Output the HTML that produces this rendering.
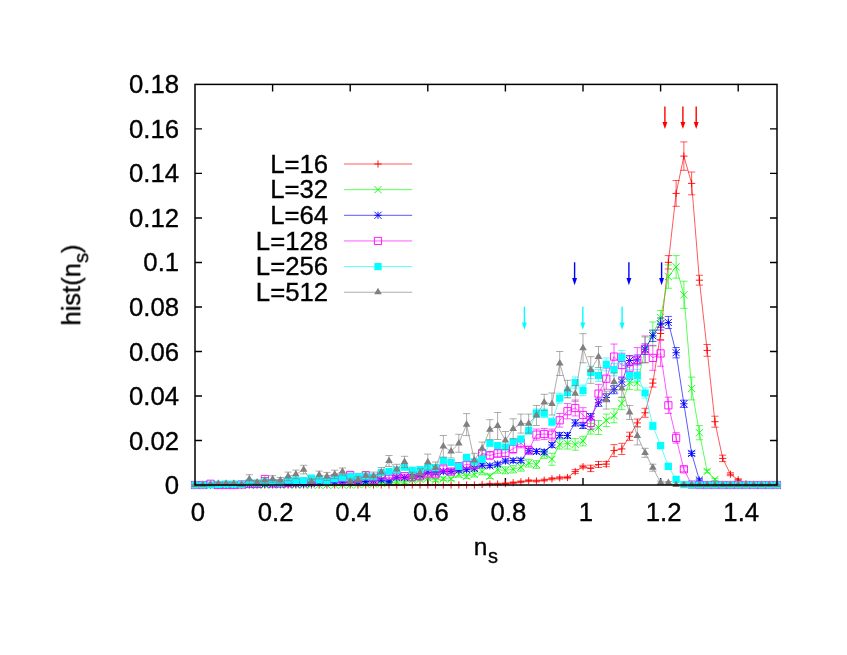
<!DOCTYPE html>
<html><head><meta charset="utf-8"><title>hist(n_s)</title>
<style>html,body{margin:0;padding:0;background:#fff}svg{display:block}</style></head>
<body>
<svg width="847" height="655" viewBox="0 0 847 655">
<rect width="847" height="655" fill="#fff"/>
<path d="M272.6 485.0V478.0M272.6 84.4V91.4M350.2 485.0V478.0M350.2 84.4V91.4M427.8 485.0V478.0M427.8 84.4V91.4M505.4 485.0V478.0M505.4 84.4V91.4M583 485.0V478.0M583 84.4V91.4M660.6 485.0V478.0M660.6 84.4V91.4M738.2 485.0V478.0M738.2 84.4V91.4M195.0 440.49H202.0M777.0 440.49H770.0M195.0 395.98H202.0M777.0 395.98H770.0M195.0 351.47H202.0M777.0 351.47H770.0M195.0 306.96H202.0M777.0 306.96H770.0M195.0 262.44H202.0M777.0 262.44H770.0M195.0 217.93H202.0M777.0 217.93H770.0M195.0 173.42H202.0M777.0 173.42H770.0M195.0 128.91H202.0M777.0 128.91H770.0" stroke="#000" stroke-width="1.4" fill="none"/>
<g fill="none" stroke-width="0.65" stroke-linejoin="round">
<g stroke="#ff0000"><path d="M191.4 485H198.6M199.16 485H206.36M206.92 485H214.12M214.68 485H221.88M222.44 485H229.64M230.2 485H237.4M237.96 485H245.16M245.72 485H252.92M253.48 485H260.68M261.24 485H268.44M269 485H276.2M276.76 485H283.96M284.52 485H291.72M292.28 485H299.48M300.04 485H307.24M307.8 485H315M315.56 485H322.76M323.32 485H330.52M331.08 485H338.28M338.84 485H346.04M346.6 485H353.8M354.36 485H361.56M362.12 485H369.32M369.88 485H377.08M377.64 485H384.84M385.4 485H392.6M393.16 485H400.36M400.92 485H408.12M408.68 485H415.88M416.44 485H423.64M424.2 485H431.4M431.96 485H439.16M439.72 485H446.92M447.48 485H454.68M455.24 485H462.44M463 485H470.2M470.76 485H477.96M482.12 484V485M478.52 484H485.72M478.52 485H485.72M489.88 483.32V484.68M486.28 483.32H493.48M486.28 484.68H493.48M497.64 483.32V484.68M494.04 483.32H501.24M494.04 484.68H501.24M505.4 482.89V484.31M501.8 482.89H509M501.8 484.31H509M513.16 481.92V483.48M509.56 481.92H516.76M509.56 483.48H516.76M520.92 480.94V482.66M517.32 480.94H524.52M517.32 482.66H524.52M528.68 479.76V481.64M525.08 479.76H532.28M525.08 481.64H532.28M536.44 480.08V481.92M532.84 480.08H540.04M532.84 481.92H540.04M544.2 479.11V481.09M540.6 479.11H547.8M540.6 481.09H547.8M551.96 477.7V479.9M548.36 477.7H555.56M548.36 479.9H555.56M559.72 476.73V479.07M556.12 476.73H563.32M556.12 479.07H563.32M567.48 476.3V478.7M563.88 476.3H571.08M563.88 478.7H571.08M575.24 469.6V473.6M571.64 469.6H578.84M571.64 473.6H578.84M583 465.3V468.1M579.4 465.3H586.6M579.4 468.1H586.6M590.76 465.2V471.6M587.16 465.2H594.36M587.16 471.6H594.36M598.52 461.5V467.5M594.92 461.5H602.12M594.92 467.5H602.12M606.28 461.5V466.7M602.68 461.5H609.88M602.68 466.7H609.88M614.04 444.6V456.6M610.44 444.6H617.64M610.44 456.6H617.64M621.8 443.3V454.5M618.2 443.3H625.4M618.2 454.5H625.4M629.56 432.2V440.4M625.96 432.2H633.16M625.96 440.4H633.16M637.32 419V426.8M633.72 419H640.92M633.72 426.8H640.92M645.08 408.3V417.3M641.48 408.3H648.68M641.48 417.3H648.68M652.84 379.1V387.1M649.24 379.1H656.44M649.24 387.1H656.44M660.6 327.5V339.5M657 327.5H664.2M657 339.5H664.2M668.36 255.6V269M664.76 255.6H671.96M664.76 269H671.96M676.12 180.5V206.3M672.52 180.5H679.72M672.52 206.3H679.72M683.88 141.9V170.3M680.28 141.9H687.48M680.28 170.3H687.48M691.64 172V194.8M688.04 172H695.24M688.04 194.8H695.24M699.4 275.3V285.1M695.8 275.3H703M695.8 285.1H703M707.16 344.5V356.3M703.56 344.5H710.76M703.56 356.3H710.76M714.92 416.2V427.2M711.32 416.2H718.52M711.32 427.2H718.52M722.68 455.2V461.6M719.08 455.2H726.28M719.08 461.6H726.28M730.44 472.7V475.7M726.84 472.7H734.04M726.84 475.7H734.04M738.2 478.8V480.8M734.6 478.8H741.8M734.6 480.8H741.8M745.96 483.32V484.68M742.36 483.32H749.56M742.36 484.68H749.56M750.12 485H757.32M757.88 485H765.08M765.64 485H772.84M773.4 485H780.6"/><path d="M195 485L202.76 485L210.52 485L218.28 485L226.04 485L233.8 485L241.56 485L249.32 485L257.08 485L264.84 485L272.6 485L280.36 485L288.12 485L295.88 485L303.64 485L311.4 485L319.16 485L326.92 485L334.68 485L342.44 485L350.2 485L357.96 485L365.72 485L373.48 485L381.24 485L389 485L396.76 485L404.52 485L412.28 485L420.04 485L427.8 485L435.56 485L443.32 485L451.08 485L458.84 485L466.6 485L474.36 485L482.12 484.5L489.88 484L497.64 484L505.4 483.6L513.16 482.7L520.92 481.8L528.68 480.7L536.44 481L544.2 480.1L551.96 478.8L559.72 477.9L567.48 477.5L575.24 471.6L583 466.7L590.76 468.4L598.52 464.5L606.28 464.1L614.04 450.6L621.8 448.9L629.56 436.3L637.32 422.9L645.08 412.8L652.84 383.1L660.6 333.5L668.36 262.3L676.12 193.4L683.88 156.1L691.64 183.4L699.4 280.2L707.16 350.4L714.92 421.7L722.68 458.4L730.44 474.2L738.2 479.8L745.96 484L753.72 485L761.48 485L769.24 485L777 485"/>
<path d="M191.4 485H198.6M195 481.4V488.6M199.16 485H206.36M202.76 481.4V488.6M206.92 485H214.12M210.52 481.4V488.6M214.68 485H221.88M218.28 481.4V488.6M222.44 485H229.64M226.04 481.4V488.6M230.2 485H237.4M233.8 481.4V488.6M237.96 485H245.16M241.56 481.4V488.6M245.72 485H252.92M249.32 481.4V488.6M253.48 485H260.68M257.08 481.4V488.6M261.24 485H268.44M264.84 481.4V488.6M269 485H276.2M272.6 481.4V488.6M276.76 485H283.96M280.36 481.4V488.6M284.52 485H291.72M288.12 481.4V488.6M292.28 485H299.48M295.88 481.4V488.6M300.04 485H307.24M303.64 481.4V488.6M307.8 485H315M311.4 481.4V488.6M315.56 485H322.76M319.16 481.4V488.6M323.32 485H330.52M326.92 481.4V488.6M331.08 485H338.28M334.68 481.4V488.6M338.84 485H346.04M342.44 481.4V488.6M346.6 485H353.8M350.2 481.4V488.6M354.36 485H361.56M357.96 481.4V488.6M362.12 485H369.32M365.72 481.4V488.6M369.88 485H377.08M373.48 481.4V488.6M377.64 485H384.84M381.24 481.4V488.6M385.4 485H392.6M389 481.4V488.6M393.16 485H400.36M396.76 481.4V488.6M400.92 485H408.12M404.52 481.4V488.6M408.68 485H415.88M412.28 481.4V488.6M416.44 485H423.64M420.04 481.4V488.6M424.2 485H431.4M427.8 481.4V488.6M431.96 485H439.16M435.56 481.4V488.6M439.72 485H446.92M443.32 481.4V488.6M447.48 485H454.68M451.08 481.4V488.6M455.24 485H462.44M458.84 481.4V488.6M463 485H470.2M466.6 481.4V488.6M470.76 485H477.96M474.36 481.4V488.6M478.52 484.5H485.72M482.12 480.9V488.1M486.28 484H493.48M489.88 480.4V487.6M494.04 484H501.24M497.64 480.4V487.6M501.8 483.6H509M505.4 480V487.2M509.56 482.7H516.76M513.16 479.1V486.3M517.32 481.8H524.52M520.92 478.2V485.4M525.08 480.7H532.28M528.68 477.1V484.3M532.84 481H540.04M536.44 477.4V484.6M540.6 480.1H547.8M544.2 476.5V483.7M548.36 478.8H555.56M551.96 475.2V482.4M556.12 477.9H563.32M559.72 474.3V481.5M563.88 477.5H571.08M567.48 473.9V481.1M571.64 471.6H578.84M575.24 468V475.2M579.4 466.7H586.6M583 463.1V470.3M587.16 468.4H594.36M590.76 464.8V472M594.92 464.5H602.12M598.52 460.9V468.1M602.68 464.1H609.88M606.28 460.5V467.7M610.44 450.6H617.64M614.04 447V454.2M618.2 448.9H625.4M621.8 445.3V452.5M625.96 436.3H633.16M629.56 432.7V439.9M633.72 422.9H640.92M637.32 419.3V426.5M641.48 412.8H648.68M645.08 409.2V416.4M649.24 383.1H656.44M652.84 379.5V386.7M657 333.5H664.2M660.6 329.9V337.1M664.76 262.3H671.96M668.36 258.7V265.9M672.52 193.4H679.72M676.12 189.8V197M680.28 156.1H687.48M683.88 152.5V159.7M688.04 183.4H695.24M691.64 179.8V187M695.8 280.2H703M699.4 276.6V283.8M703.56 350.4H710.76M707.16 346.8V354M711.32 421.7H718.52M714.92 418.1V425.3M719.08 458.4H726.28M722.68 454.8V462M726.84 474.2H734.04M730.44 470.6V477.8M734.6 479.8H741.8M738.2 476.2V483.4M742.36 484H749.56M745.96 480.4V487.6M750.12 485H757.32M753.72 481.4V488.6M757.88 485H765.08M761.48 481.4V488.6M765.64 485H772.84M769.24 481.4V488.6M773.4 485H780.6M777 481.4V488.6" stroke-width="0.9"/>
</g>
<g stroke="#00ff00"><path d="M191.4 485H198.6M199.16 485H206.36M206.92 485H214.12M214.68 485H221.88M222.44 485H229.64M230.2 485H237.4M237.96 485H245.16M245.72 485H252.92M253.48 485H260.68M261.24 485H268.44M269 485H276.2M276.76 485H283.96M284.52 485H291.72M292.28 485H299.48M300.04 485H307.24M307.8 485H315M315.56 485H322.76M323.32 485H330.52M331.08 485H338.28M338.84 485H346.04M346.6 485H353.8M357.96 484V485M354.36 484H361.56M354.36 485H361.56M365.72 483.3V484.7M362.12 483.3H369.32M362.12 484.7H369.32M373.48 483.3V484.7M369.88 483.3H377.08M369.88 484.7H377.08M381.24 482.7V484.3M377.64 482.7H384.84M377.64 484.3H384.84M389 481.74V483.66M385.4 481.74H392.6M385.4 483.66H392.6M396.76 480.9V483.1M393.16 480.9H400.36M393.16 483.1H400.36M404.52 480.9V483.1M400.92 480.9H408.12M400.92 483.1H408.12M412.28 478.62V481.58M408.68 478.62H415.88M408.68 481.58H415.88M420.04 477.78V481.02M416.44 477.78H423.64M416.44 481.02H423.64M427.8 476.22V479.98M424.2 476.22H431.4M424.2 479.98H431.4M435.56 478.62V481.58M431.96 478.62H439.16M431.96 481.58H439.16M443.32 477.06V480.54M439.72 477.06H446.92M439.72 480.54H446.92M451.08 477.06V480.54M447.48 477.06H454.68M447.48 480.54H454.68M458.84 471.9V477.1M455.24 471.9H462.44M455.24 477.1H462.44M466.6 473.94V478.46M463 473.94H470.2M463 478.46H470.2M474.36 471.54V476.86M470.76 471.54H477.96M470.76 476.86H477.96M482.12 468.42V474.78M478.52 468.42H485.72M478.52 474.78H485.72M489.88 473.94V478.46M486.28 473.94H493.48M486.28 478.46H493.48M497.64 466.14V473.26M494.04 466.14H501.24M494.04 473.26H501.24M505.4 466.86V473.74M501.8 466.86H509M501.8 473.74H509M513.16 465.66V472.94M509.56 465.66H516.76M509.56 472.94H516.76M520.92 463.02V471.18M517.32 463.02H524.52M517.32 471.18H524.52M528.68 459.33V467.07M525.08 459.33H532.28M525.08 467.07H532.28M536.44 460.68V468.32M532.84 460.68H540.04M532.84 468.32H540.04M544.2 449.86V458.34M540.6 449.86H547.8M540.6 458.34H547.8M551.96 453.3V465.3M548.36 453.3H555.56M548.36 465.3H555.56M559.72 439.78V449.02M556.12 439.78H563.32M556.12 449.02H563.32M567.48 437.6V449M563.88 437.6H571.08M563.88 449H571.08M575.24 438.6V450.2M571.64 438.6H578.84M571.64 450.2H578.84M583 436.34V445.86M579.4 436.34H586.6M579.4 445.86H586.6M590.76 423.55V434.05M587.16 423.55H594.36M587.16 434.05H594.36M598.52 420.5V434.5M594.92 420.5H602.12M594.92 434.5H602.12M606.28 414.1V426.5M602.68 414.1H609.88M602.68 426.5H609.88M614.04 408.8V422.8M610.44 408.8H617.64M610.44 422.8H617.64M621.8 397.14V409.66M618.2 397.14H625.4M618.2 409.66H625.4M629.56 375.19V389.41M625.96 375.19H633.16M625.96 389.41H633.16M637.32 375.92V390.08M633.72 375.92H640.92M633.72 390.08H640.92M645.08 337V363M641.48 337H648.68M641.48 363H648.68M652.84 322V346M649.24 322H656.44M649.24 346H656.44M660.6 310.5V324.5M657 310.5H664.2M657 324.5H664.2M668.36 264.9V288.3M664.76 264.9H671.96M664.76 288.3H671.96M676.12 255.6V278.2M672.52 255.6H679.72M672.52 278.2H679.72M683.88 281.2V308.4M680.28 281.2H687.48M680.28 308.4H687.48M691.64 377.1V399.9M688.04 377.1H695.24M688.04 399.9H695.24M699.4 425.6V439.8M695.8 425.6H703M695.8 439.8H703M707.16 469.9V472.9M703.56 469.9H710.76M703.56 472.9H710.76M714.92 478.4V480.4M711.32 478.4H718.52M711.32 480.4H718.52M719.08 485H726.28M726.84 485H734.04M734.6 485H741.8M742.36 485H749.56M750.12 485H757.32M757.88 485H765.08M765.64 485H772.84M773.4 485H780.6"/><path d="M195 485L202.76 485L210.52 485L218.28 485L226.04 485L233.8 485L241.56 485L249.32 485L257.08 485L264.84 485L272.6 485L280.36 485L288.12 485L295.88 485L303.64 485L311.4 485L319.16 485L326.92 485L334.68 485L342.44 485L350.2 485L357.96 484.5L365.72 484L373.48 484L381.24 483.5L389 482.7L396.76 482L404.52 482L412.28 480.1L420.04 479.4L427.8 478.1L435.56 480.1L443.32 478.8L451.08 478.8L458.84 474.5L466.6 476.2L474.36 474.2L482.12 471.6L489.88 476.2L497.64 469.7L505.4 470.3L513.16 469.3L520.92 467.1L528.68 463.2L536.44 464.5L544.2 454.1L551.96 459.3L559.72 444.4L567.48 443.3L575.24 444.4L583 441.1L590.76 428.8L598.52 427.5L606.28 420.3L614.04 415.8L621.8 403.4L629.56 382.3L637.32 383L645.08 350L652.84 334L660.6 317.5L668.36 276.6L676.12 266.9L683.88 294.8L691.64 388.5L699.4 432.7L707.16 471.4L714.92 479.4L722.68 485L730.44 485L738.2 485L745.96 485L753.72 485L761.48 485L769.24 485L777 485"/>
<path d="M191.4 481.4L198.6 488.6M191.4 488.6L198.6 481.4M199.16 481.4L206.36 488.6M199.16 488.6L206.36 481.4M206.92 481.4L214.12 488.6M206.92 488.6L214.12 481.4M214.68 481.4L221.88 488.6M214.68 488.6L221.88 481.4M222.44 481.4L229.64 488.6M222.44 488.6L229.64 481.4M230.2 481.4L237.4 488.6M230.2 488.6L237.4 481.4M237.96 481.4L245.16 488.6M237.96 488.6L245.16 481.4M245.72 481.4L252.92 488.6M245.72 488.6L252.92 481.4M253.48 481.4L260.68 488.6M253.48 488.6L260.68 481.4M261.24 481.4L268.44 488.6M261.24 488.6L268.44 481.4M269 481.4L276.2 488.6M269 488.6L276.2 481.4M276.76 481.4L283.96 488.6M276.76 488.6L283.96 481.4M284.52 481.4L291.72 488.6M284.52 488.6L291.72 481.4M292.28 481.4L299.48 488.6M292.28 488.6L299.48 481.4M300.04 481.4L307.24 488.6M300.04 488.6L307.24 481.4M307.8 481.4L315 488.6M307.8 488.6L315 481.4M315.56 481.4L322.76 488.6M315.56 488.6L322.76 481.4M323.32 481.4L330.52 488.6M323.32 488.6L330.52 481.4M331.08 481.4L338.28 488.6M331.08 488.6L338.28 481.4M338.84 481.4L346.04 488.6M338.84 488.6L346.04 481.4M346.6 481.4L353.8 488.6M346.6 488.6L353.8 481.4M354.36 480.9L361.56 488.1M354.36 488.1L361.56 480.9M362.12 480.4L369.32 487.6M362.12 487.6L369.32 480.4M369.88 480.4L377.08 487.6M369.88 487.6L377.08 480.4M377.64 479.9L384.84 487.1M377.64 487.1L384.84 479.9M385.4 479.1L392.6 486.3M385.4 486.3L392.6 479.1M393.16 478.4L400.36 485.6M393.16 485.6L400.36 478.4M400.92 478.4L408.12 485.6M400.92 485.6L408.12 478.4M408.68 476.5L415.88 483.7M408.68 483.7L415.88 476.5M416.44 475.8L423.64 483M416.44 483L423.64 475.8M424.2 474.5L431.4 481.7M424.2 481.7L431.4 474.5M431.96 476.5L439.16 483.7M431.96 483.7L439.16 476.5M439.72 475.2L446.92 482.4M439.72 482.4L446.92 475.2M447.48 475.2L454.68 482.4M447.48 482.4L454.68 475.2M455.24 470.9L462.44 478.1M455.24 478.1L462.44 470.9M463 472.6L470.2 479.8M463 479.8L470.2 472.6M470.76 470.6L477.96 477.8M470.76 477.8L477.96 470.6M478.52 468L485.72 475.2M478.52 475.2L485.72 468M486.28 472.6L493.48 479.8M486.28 479.8L493.48 472.6M494.04 466.1L501.24 473.3M494.04 473.3L501.24 466.1M501.8 466.7L509 473.9M501.8 473.9L509 466.7M509.56 465.7L516.76 472.9M509.56 472.9L516.76 465.7M517.32 463.5L524.52 470.7M517.32 470.7L524.52 463.5M525.08 459.6L532.28 466.8M525.08 466.8L532.28 459.6M532.84 460.9L540.04 468.1M532.84 468.1L540.04 460.9M540.6 450.5L547.8 457.7M540.6 457.7L547.8 450.5M548.36 455.7L555.56 462.9M548.36 462.9L555.56 455.7M556.12 440.8L563.32 448M556.12 448L563.32 440.8M563.88 439.7L571.08 446.9M563.88 446.9L571.08 439.7M571.64 440.8L578.84 448M571.64 448L578.84 440.8M579.4 437.5L586.6 444.7M579.4 444.7L586.6 437.5M587.16 425.2L594.36 432.4M587.16 432.4L594.36 425.2M594.92 423.9L602.12 431.1M594.92 431.1L602.12 423.9M602.68 416.7L609.88 423.9M602.68 423.9L609.88 416.7M610.44 412.2L617.64 419.4M610.44 419.4L617.64 412.2M618.2 399.8L625.4 407M618.2 407L625.4 399.8M625.96 378.7L633.16 385.9M625.96 385.9L633.16 378.7M633.72 379.4L640.92 386.6M633.72 386.6L640.92 379.4M641.48 346.4L648.68 353.6M641.48 353.6L648.68 346.4M649.24 330.4L656.44 337.6M649.24 337.6L656.44 330.4M657 313.9L664.2 321.1M657 321.1L664.2 313.9M664.76 273L671.96 280.2M664.76 280.2L671.96 273M672.52 263.3L679.72 270.5M672.52 270.5L679.72 263.3M680.28 291.2L687.48 298.4M680.28 298.4L687.48 291.2M688.04 384.9L695.24 392.1M688.04 392.1L695.24 384.9M695.8 429.1L703 436.3M695.8 436.3L703 429.1M703.56 467.8L710.76 475M703.56 475L710.76 467.8M711.32 475.8L718.52 483M711.32 483L718.52 475.8M719.08 481.4L726.28 488.6M719.08 488.6L726.28 481.4M726.84 481.4L734.04 488.6M726.84 488.6L734.04 481.4M734.6 481.4L741.8 488.6M734.6 488.6L741.8 481.4M742.36 481.4L749.56 488.6M742.36 488.6L749.56 481.4M750.12 481.4L757.32 488.6M750.12 488.6L757.32 481.4M757.88 481.4L765.08 488.6M757.88 488.6L765.08 481.4M765.64 481.4L772.84 488.6M765.64 488.6L772.84 481.4M773.4 481.4L780.6 488.6M773.4 488.6L780.6 481.4" stroke-width="0.9"/>
</g>
<g stroke="#0000ff"><path d="M191.4 485H198.6M199.16 485H206.36M206.92 485H214.12M218.28 484.4V485M214.68 484.4H221.88M214.68 485H221.88M226.04 484.4V485M222.44 484.4H229.64M222.44 485H229.64M233.8 484.4V485M230.2 484.4H237.4M230.2 485H237.4M241.56 484.4V485M237.96 484.4H245.16M237.96 485H245.16M249.32 484V485M245.72 484H252.92M245.72 485H252.92M257.08 484V485M253.48 484H260.68M253.48 485H260.68M264.84 483.4V485M261.24 483.4H268.44M261.24 485H268.44M272.6 483.4V485M269 483.4H276.2M269 485H276.2M280.36 483.4V485M276.76 483.4H283.96M276.76 485H283.96M288.12 483V485M284.52 483H291.72M284.52 485H291.72M295.88 483V485M292.28 483H299.48M292.28 485H299.48M303.64 483V485M300.04 483H307.24M300.04 485H307.24M311.4 482.25V484.75M307.8 482.25H315M307.8 484.75H315M319.16 481.23V483.77M315.56 481.23H322.76M315.56 483.77H322.76M326.92 481.23V483.77M323.32 481.23H330.52M323.32 483.77H330.52M334.68 480.71V483.29M331.08 480.71H338.28M331.08 483.29H338.28M342.44 480.71V483.29M338.84 480.71H346.04M338.84 483.29H346.04M350.2 481.23V483.77M346.6 481.23H353.8M346.6 483.77H353.8M357.96 480.71V483.29M354.36 480.71H361.56M354.36 483.29H361.56M365.72 480.19V482.81M362.12 480.19H369.32M362.12 482.81H369.32M373.48 479.17V481.83M369.88 479.17H377.08M369.88 481.83H377.08M381.24 478.65V481.35M377.64 478.65H384.84M377.64 481.35H384.84M389 480.09V482.71M385.4 480.09H392.6M385.4 482.71H392.6M396.76 476.07V478.93M393.16 476.07H400.36M393.16 478.93H400.36M404.52 476.07V478.93M400.92 476.07H408.12M400.92 478.93H408.12M412.28 474.74V477.66M408.68 474.74H415.88M408.68 477.66H415.88M420.04 473.5V476.5M416.44 473.5H423.64M416.44 476.5H423.64M427.8 470.72V473.88M424.2 470.72H431.4M424.2 473.88H431.4M435.56 471.44V474.56M431.96 471.44H439.16M431.96 474.56H439.16M443.32 470V473.2M439.72 470H446.92M439.72 473.2H446.92M451.08 469.79V473.01M447.48 469.79H454.68M447.48 473.01H454.68M458.84 468.66V471.94M455.24 468.66H462.44M455.24 471.94H462.44M466.6 468.04V471.36M463 468.04H470.2M463 471.36H470.2M474.36 466.7V470.1M470.76 466.7H477.96M470.76 470.1H477.96M482.12 463.3V466.9M478.52 463.3H485.72M478.52 466.9H485.72M489.88 464.02V467.58M486.28 464.02H493.48M486.28 467.58H493.48M497.64 462.27V465.93M494.04 462.27H501.24M494.04 465.93H501.24M505.4 459.08V462.92M501.8 459.08H509M501.8 462.92H509M513.16 458.67V462.53M509.56 458.67H516.76M509.56 462.53H516.76M520.92 458.36V462.24M517.32 458.36H524.52M517.32 462.24H524.52M528.68 448.57V453.03M525.08 448.57H532.28M525.08 453.03H532.28M536.44 449.3V453.7M532.84 449.3H540.04M532.84 453.7H540.04M544.2 449.71V454.09M540.6 449.71H547.8M540.6 454.09H547.8M551.96 442.6V447.4M548.36 442.6H555.56M548.36 447.4H555.56M559.72 432.61V437.99M556.12 432.61H563.32M556.12 437.99H563.32M567.48 432.81V438.19M563.88 432.81H571.08M563.88 438.19H571.08M575.24 419.84V425.96M571.64 419.84H578.84M571.64 425.96H578.84M583 422.51V428.49M579.4 422.51H586.6M579.4 428.49H586.6M590.76 413.55V420.05M587.16 413.55H594.36M587.16 420.05H594.36M598.52 399.03V406.37M594.92 399.03H602.12M594.92 406.37H602.12M606.28 393.68V401.32M602.68 393.68H609.88M602.68 401.32H609.88M614.04 385.64V393.76M610.44 385.64H617.64M610.44 393.76H617.64M621.8 377.71V386.29M618.2 377.71H625.4M618.2 386.29H625.4M629.56 355.56V365.44M625.96 355.56H633.16M625.96 365.44H633.16M637.32 354.95V364.85M633.72 354.95H640.92M633.72 364.85H640.92M645.08 343.93V354.47M641.48 343.93H648.68M641.48 354.47H648.68M652.84 330.12V341.48M649.24 330.12H656.44M649.24 341.48H656.44M660.6 317.97V330.03M657 317.97H664.2M657 330.03H664.2M668.36 316.43V328.57M664.76 316.43H671.96M664.76 328.57H671.96M676.12 347.53V357.87M672.52 347.53H679.72M672.52 357.87H679.72M683.88 400.16V407.44M680.28 400.16H687.48M680.28 407.44H687.48M691.64 451.25V455.55M688.04 451.25H695.24M688.04 455.55H695.24M699.4 478.75V481.45M695.8 478.75H703M695.8 481.45H703M703.56 485H710.76M711.32 485H718.52M719.08 485H726.28M726.84 485H734.04M734.6 485H741.8M742.36 485H749.56M750.12 485H757.32M757.88 485H765.08M765.64 485H772.84M773.4 485H780.6"/><path d="M195 485L202.76 485L210.52 485L218.28 484.7L226.04 484.7L233.8 484.7L241.56 484.7L249.32 484.5L257.08 484.5L264.84 484.2L272.6 484.2L280.36 484.2L288.12 484L295.88 484L303.64 484L311.4 483.5L319.16 482.5L326.92 482.5L334.68 482L342.44 482L350.2 482.5L357.96 482L365.72 481.5L373.48 480.5L381.24 480L389 481.4L396.76 477.5L404.52 477.5L412.28 476.2L420.04 475L427.8 472.3L435.56 473L443.32 471.6L451.08 471.4L458.84 470.3L466.6 469.7L474.36 468.4L482.12 465.1L489.88 465.8L497.64 464.1L505.4 461L513.16 460.6L520.92 460.3L528.68 450.8L536.44 451.5L544.2 451.9L551.96 445L559.72 435.3L567.48 435.5L575.24 422.9L583 425.5L590.76 416.8L598.52 402.7L606.28 397.5L614.04 389.7L621.8 382L629.56 360.5L637.32 359.9L645.08 349.2L652.84 335.8L660.6 324L668.36 322.5L676.12 352.7L683.88 403.8L691.64 453.4L699.4 480.1L707.16 485L714.92 485L722.68 485L730.44 485L738.2 485L745.96 485L753.72 485L761.48 485L769.24 485L777 485"/>
<path d="M191.4 485H198.6M195 481.4V488.6M191.4 481.4L198.6 488.6M191.4 488.6L198.6 481.4M199.16 485H206.36M202.76 481.4V488.6M199.16 481.4L206.36 488.6M199.16 488.6L206.36 481.4M206.92 485H214.12M210.52 481.4V488.6M206.92 481.4L214.12 488.6M206.92 488.6L214.12 481.4M214.68 484.7H221.88M218.28 481.1V488.3M214.68 481.1L221.88 488.3M214.68 488.3L221.88 481.1M222.44 484.7H229.64M226.04 481.1V488.3M222.44 481.1L229.64 488.3M222.44 488.3L229.64 481.1M230.2 484.7H237.4M233.8 481.1V488.3M230.2 481.1L237.4 488.3M230.2 488.3L237.4 481.1M237.96 484.7H245.16M241.56 481.1V488.3M237.96 481.1L245.16 488.3M237.96 488.3L245.16 481.1M245.72 484.5H252.92M249.32 480.9V488.1M245.72 480.9L252.92 488.1M245.72 488.1L252.92 480.9M253.48 484.5H260.68M257.08 480.9V488.1M253.48 480.9L260.68 488.1M253.48 488.1L260.68 480.9M261.24 484.2H268.44M264.84 480.6V487.8M261.24 480.6L268.44 487.8M261.24 487.8L268.44 480.6M269 484.2H276.2M272.6 480.6V487.8M269 480.6L276.2 487.8M269 487.8L276.2 480.6M276.76 484.2H283.96M280.36 480.6V487.8M276.76 480.6L283.96 487.8M276.76 487.8L283.96 480.6M284.52 484H291.72M288.12 480.4V487.6M284.52 480.4L291.72 487.6M284.52 487.6L291.72 480.4M292.28 484H299.48M295.88 480.4V487.6M292.28 480.4L299.48 487.6M292.28 487.6L299.48 480.4M300.04 484H307.24M303.64 480.4V487.6M300.04 480.4L307.24 487.6M300.04 487.6L307.24 480.4M307.8 483.5H315M311.4 479.9V487.1M307.8 479.9L315 487.1M307.8 487.1L315 479.9M315.56 482.5H322.76M319.16 478.9V486.1M315.56 478.9L322.76 486.1M315.56 486.1L322.76 478.9M323.32 482.5H330.52M326.92 478.9V486.1M323.32 478.9L330.52 486.1M323.32 486.1L330.52 478.9M331.08 482H338.28M334.68 478.4V485.6M331.08 478.4L338.28 485.6M331.08 485.6L338.28 478.4M338.84 482H346.04M342.44 478.4V485.6M338.84 478.4L346.04 485.6M338.84 485.6L346.04 478.4M346.6 482.5H353.8M350.2 478.9V486.1M346.6 478.9L353.8 486.1M346.6 486.1L353.8 478.9M354.36 482H361.56M357.96 478.4V485.6M354.36 478.4L361.56 485.6M354.36 485.6L361.56 478.4M362.12 481.5H369.32M365.72 477.9V485.1M362.12 477.9L369.32 485.1M362.12 485.1L369.32 477.9M369.88 480.5H377.08M373.48 476.9V484.1M369.88 476.9L377.08 484.1M369.88 484.1L377.08 476.9M377.64 480H384.84M381.24 476.4V483.6M377.64 476.4L384.84 483.6M377.64 483.6L384.84 476.4M385.4 481.4H392.6M389 477.8V485M385.4 477.8L392.6 485M385.4 485L392.6 477.8M393.16 477.5H400.36M396.76 473.9V481.1M393.16 473.9L400.36 481.1M393.16 481.1L400.36 473.9M400.92 477.5H408.12M404.52 473.9V481.1M400.92 473.9L408.12 481.1M400.92 481.1L408.12 473.9M408.68 476.2H415.88M412.28 472.6V479.8M408.68 472.6L415.88 479.8M408.68 479.8L415.88 472.6M416.44 475H423.64M420.04 471.4V478.6M416.44 471.4L423.64 478.6M416.44 478.6L423.64 471.4M424.2 472.3H431.4M427.8 468.7V475.9M424.2 468.7L431.4 475.9M424.2 475.9L431.4 468.7M431.96 473H439.16M435.56 469.4V476.6M431.96 469.4L439.16 476.6M431.96 476.6L439.16 469.4M439.72 471.6H446.92M443.32 468V475.2M439.72 468L446.92 475.2M439.72 475.2L446.92 468M447.48 471.4H454.68M451.08 467.8V475M447.48 467.8L454.68 475M447.48 475L454.68 467.8M455.24 470.3H462.44M458.84 466.7V473.9M455.24 466.7L462.44 473.9M455.24 473.9L462.44 466.7M463 469.7H470.2M466.6 466.1V473.3M463 466.1L470.2 473.3M463 473.3L470.2 466.1M470.76 468.4H477.96M474.36 464.8V472M470.76 464.8L477.96 472M470.76 472L477.96 464.8M478.52 465.1H485.72M482.12 461.5V468.7M478.52 461.5L485.72 468.7M478.52 468.7L485.72 461.5M486.28 465.8H493.48M489.88 462.2V469.4M486.28 462.2L493.48 469.4M486.28 469.4L493.48 462.2M494.04 464.1H501.24M497.64 460.5V467.7M494.04 460.5L501.24 467.7M494.04 467.7L501.24 460.5M501.8 461H509M505.4 457.4V464.6M501.8 457.4L509 464.6M501.8 464.6L509 457.4M509.56 460.6H516.76M513.16 457V464.2M509.56 457L516.76 464.2M509.56 464.2L516.76 457M517.32 460.3H524.52M520.92 456.7V463.9M517.32 456.7L524.52 463.9M517.32 463.9L524.52 456.7M525.08 450.8H532.28M528.68 447.2V454.4M525.08 447.2L532.28 454.4M525.08 454.4L532.28 447.2M532.84 451.5H540.04M536.44 447.9V455.1M532.84 447.9L540.04 455.1M532.84 455.1L540.04 447.9M540.6 451.9H547.8M544.2 448.3V455.5M540.6 448.3L547.8 455.5M540.6 455.5L547.8 448.3M548.36 445H555.56M551.96 441.4V448.6M548.36 441.4L555.56 448.6M548.36 448.6L555.56 441.4M556.12 435.3H563.32M559.72 431.7V438.9M556.12 431.7L563.32 438.9M556.12 438.9L563.32 431.7M563.88 435.5H571.08M567.48 431.9V439.1M563.88 431.9L571.08 439.1M563.88 439.1L571.08 431.9M571.64 422.9H578.84M575.24 419.3V426.5M571.64 419.3L578.84 426.5M571.64 426.5L578.84 419.3M579.4 425.5H586.6M583 421.9V429.1M579.4 421.9L586.6 429.1M579.4 429.1L586.6 421.9M587.16 416.8H594.36M590.76 413.2V420.4M587.16 413.2L594.36 420.4M587.16 420.4L594.36 413.2M594.92 402.7H602.12M598.52 399.1V406.3M594.92 399.1L602.12 406.3M594.92 406.3L602.12 399.1M602.68 397.5H609.88M606.28 393.9V401.1M602.68 393.9L609.88 401.1M602.68 401.1L609.88 393.9M610.44 389.7H617.64M614.04 386.1V393.3M610.44 386.1L617.64 393.3M610.44 393.3L617.64 386.1M618.2 382H625.4M621.8 378.4V385.6M618.2 378.4L625.4 385.6M618.2 385.6L625.4 378.4M625.96 360.5H633.16M629.56 356.9V364.1M625.96 356.9L633.16 364.1M625.96 364.1L633.16 356.9M633.72 359.9H640.92M637.32 356.3V363.5M633.72 356.3L640.92 363.5M633.72 363.5L640.92 356.3M641.48 349.2H648.68M645.08 345.6V352.8M641.48 345.6L648.68 352.8M641.48 352.8L648.68 345.6M649.24 335.8H656.44M652.84 332.2V339.4M649.24 332.2L656.44 339.4M649.24 339.4L656.44 332.2M657 324H664.2M660.6 320.4V327.6M657 320.4L664.2 327.6M657 327.6L664.2 320.4M664.76 322.5H671.96M668.36 318.9V326.1M664.76 318.9L671.96 326.1M664.76 326.1L671.96 318.9M672.52 352.7H679.72M676.12 349.1V356.3M672.52 349.1L679.72 356.3M672.52 356.3L679.72 349.1M680.28 403.8H687.48M683.88 400.2V407.4M680.28 400.2L687.48 407.4M680.28 407.4L687.48 400.2M688.04 453.4H695.24M691.64 449.8V457M688.04 449.8L695.24 457M688.04 457L695.24 449.8M695.8 480.1H703M699.4 476.5V483.7M695.8 476.5L703 483.7M695.8 483.7L703 476.5M703.56 485H710.76M707.16 481.4V488.6M703.56 481.4L710.76 488.6M703.56 488.6L710.76 481.4M711.32 485H718.52M714.92 481.4V488.6M711.32 481.4L718.52 488.6M711.32 488.6L718.52 481.4M719.08 485H726.28M722.68 481.4V488.6M719.08 481.4L726.28 488.6M719.08 488.6L726.28 481.4M726.84 485H734.04M730.44 481.4V488.6M726.84 481.4L734.04 488.6M726.84 488.6L734.04 481.4M734.6 485H741.8M738.2 481.4V488.6M734.6 481.4L741.8 488.6M734.6 488.6L741.8 481.4M742.36 485H749.56M745.96 481.4V488.6M742.36 481.4L749.56 488.6M742.36 488.6L749.56 481.4M750.12 485H757.32M753.72 481.4V488.6M750.12 481.4L757.32 488.6M750.12 488.6L757.32 481.4M757.88 485H765.08M761.48 481.4V488.6M757.88 481.4L765.08 488.6M757.88 488.6L765.08 481.4M765.64 485H772.84M769.24 481.4V488.6M765.64 481.4L772.84 488.6M765.64 488.6L772.84 481.4M773.4 485H780.6M777 481.4V488.6M773.4 481.4L780.6 488.6M773.4 488.6L780.6 481.4" stroke-width="0.9"/>
</g>
<g stroke="#ff00ff"><path d="M191.4 485H198.6M199.16 485H206.36M210.52 482.69V484.91M206.92 482.69H214.12M206.92 484.91H214.12M214.68 485H221.88M222.44 485H229.64M230.2 485H237.4M241.56 484V485M237.96 484H245.16M237.96 485H245.16M249.32 483V485M245.72 483H252.92M245.72 485H252.92M257.08 483V485M253.48 483H260.68M253.48 485H260.68M264.84 477.46V480.54M261.24 477.46H268.44M261.24 480.54H268.44M272.6 482.37V484.63M269 482.37H276.2M269 484.63H276.2M280.36 482.37V484.63M276.76 482.37H283.96M276.76 484.63H283.96M288.12 481.82V484.18M284.52 481.82H291.72M284.52 484.18H291.72M295.88 480.73V483.27M292.28 480.73H299.48M292.28 483.27H299.48M303.64 480.73V483.27M300.04 480.73H307.24M300.04 483.27H307.24M311.4 480.73V483.27M307.8 480.73H315M307.8 483.27H315M319.16 480.19V482.81M315.56 480.19H322.76M315.56 482.81H322.76M326.92 480.73V483.27M323.32 480.73H330.52M323.32 483.27H330.52M334.68 476.7V479.9M331.08 476.7H338.28M331.08 479.9H338.28M342.44 478.55V481.45M338.84 478.55H346.04M338.84 481.45H346.04M350.2 473.1V476.9M346.6 473.1H353.8M346.6 476.9H353.8M357.96 479.64V482.36M354.36 479.64H361.56M354.36 482.36H361.56M365.72 473.43V477.17M362.12 473.43H369.32M362.12 477.17H369.32M373.48 478.55V481.45M369.88 478.55H377.08M369.88 481.45H377.08M381.24 473.64V477.36M377.64 473.64H384.84M377.64 477.36H384.84M389 473.64V477.36M385.4 473.64H392.6M385.4 477.36H392.6M396.76 473.64V477.36M393.16 473.64H400.36M393.16 477.36H400.36M404.52 474.41V477.99M400.92 474.41H408.12M400.92 477.99H408.12M412.28 475.28V478.72M408.68 475.28H415.88M408.68 478.72H415.88M420.04 474.41V477.99M416.44 474.41H423.64M416.44 477.99H423.64M427.8 472.23V476.17M424.2 472.23H431.4M424.2 476.17H431.4M435.56 472.23V476.17M431.96 472.23H439.16M431.96 476.17H439.16M443.32 465.91V470.89M439.72 465.91H446.92M439.72 470.89H446.92M451.08 469.39V473.81M447.48 469.39H454.68M447.48 473.81H454.68M458.84 463.51V468.89M455.24 463.51H462.44M455.24 468.89H462.44M466.6 461.65V467.35M463 461.65H470.2M463 467.35H470.2M474.36 462.31V467.89M470.76 462.31H477.96M470.76 467.89H477.96M482.12 449.56V457.24M478.52 449.56H485.72M478.52 457.24H485.72M489.88 451.74V459.06M486.28 451.74H493.48M486.28 459.06H493.48M497.64 449.56V457.24M494.04 449.56H501.24M494.04 457.24H501.24M505.4 448.9V456.7M501.8 448.9H509M501.8 456.7H509M513.16 444.65V453.15M509.56 444.65H516.76M509.56 453.15H516.76M520.92 438.33V447.87M517.32 438.33H524.52M517.32 447.87H524.52M528.68 446.07V454.33M525.08 446.07H532.28M525.08 454.33H532.28M536.44 429.06V440.14M532.84 429.06H540.04M532.84 440.14H540.04M544.2 428.41V439.59M540.6 428.41H547.8M540.6 439.59H547.8M551.96 429.06V440.14M548.36 429.06H555.56M548.36 440.14H555.56M559.72 413.48V427.12M556.12 413.48H563.32M556.12 427.12H563.32M567.48 403.56V418.84M563.88 403.56H571.08M563.88 418.84H571.08M575.24 400.07V415.93M571.64 400.07H578.84M571.64 415.93H578.84M583 407.7V422.3M579.4 407.7H586.6M579.4 422.3H586.6M590.76 416.31V429.49M587.16 416.31H594.36M587.16 429.49H594.36M598.52 384.37V402.83M594.92 384.37H602.12M594.92 402.83H602.12M606.28 368.13V389.27M602.68 368.13H609.88M602.68 389.27H609.88M614.04 344.04V369.16M610.44 344.04H617.64M610.44 369.16H617.64M621.8 353.2V376.8M618.2 353.2H625.4M618.2 376.8H625.4M629.56 356.14V379.26M625.96 356.14H633.16M625.96 379.26H633.16M637.32 347.64V372.16M633.72 347.64H640.92M633.72 372.16H640.92M645.08 335.98V362.42M641.48 335.98H648.68M641.48 362.42H648.68M652.84 345.46V370.34M649.24 345.46H656.44M649.24 370.34H656.44M660.6 340.56V366.24M657 340.56H664.2M657 366.24H664.2M668.36 397.13V413.47M664.76 397.13H671.96M664.76 413.47H671.96M676.12 432.66V443.14M672.52 432.66H679.72M672.52 443.14H679.72M683.88 466.89V471.71M680.28 466.89H687.48M680.28 471.71H687.48M691.64 484.2V485M688.04 484.2H695.24M688.04 485H695.24M695.8 485H703M703.56 485H710.76M711.32 485H718.52M719.08 485H726.28M726.84 485H734.04M734.6 485H741.8M742.36 485H749.56M750.12 485H757.32M757.88 485H765.08M765.64 485H772.84M773.4 485H780.6"/><path d="M195 485L202.76 485L210.52 483.8L218.28 485L226.04 485L233.8 485L241.56 484.5L249.32 484L257.08 484L264.84 479L272.6 483.5L280.36 483.5L288.12 483L295.88 482L303.64 482L311.4 482L319.16 481.5L326.92 482L334.68 478.3L342.44 480L350.2 475L357.96 481L365.72 475.3L373.48 480L381.24 475.5L389 475.5L396.76 475.5L404.52 476.2L412.28 477L420.04 476.2L427.8 474.2L435.56 474.2L443.32 468.4L451.08 471.6L458.84 466.2L466.6 464.5L474.36 465.1L482.12 453.4L489.88 455.4L497.64 453.4L505.4 452.8L513.16 448.9L520.92 443.1L528.68 450.2L536.44 434.6L544.2 434L551.96 434.6L559.72 420.3L567.48 411.2L575.24 408L583 415L590.76 422.9L598.52 393.6L606.28 378.7L614.04 356.6L621.8 365L629.56 367.7L637.32 359.9L645.08 349.2L652.84 357.9L660.6 353.4L668.36 405.3L676.12 437.9L683.88 469.3L691.64 484.6L699.4 485L707.16 485L714.92 485L722.68 485L730.44 485L738.2 485L745.96 485L753.72 485L761.48 485L769.24 485L777 485"/>
<path d="M191.4 481.4H198.6V488.6H191.4ZM199.16 481.4H206.36V488.6H199.16ZM206.92 480.2H214.12V487.4H206.92ZM214.68 481.4H221.88V488.6H214.68ZM222.44 481.4H229.64V488.6H222.44ZM230.2 481.4H237.4V488.6H230.2ZM237.96 480.9H245.16V488.1H237.96ZM245.72 480.4H252.92V487.6H245.72ZM253.48 480.4H260.68V487.6H253.48ZM261.24 475.4H268.44V482.6H261.24ZM269 479.9H276.2V487.1H269ZM276.76 479.9H283.96V487.1H276.76ZM284.52 479.4H291.72V486.6H284.52ZM292.28 478.4H299.48V485.6H292.28ZM300.04 478.4H307.24V485.6H300.04ZM307.8 478.4H315V485.6H307.8ZM315.56 477.9H322.76V485.1H315.56ZM323.32 478.4H330.52V485.6H323.32ZM331.08 474.7H338.28V481.9H331.08ZM338.84 476.4H346.04V483.6H338.84ZM346.6 471.4H353.8V478.6H346.6ZM354.36 477.4H361.56V484.6H354.36ZM362.12 471.7H369.32V478.9H362.12ZM369.88 476.4H377.08V483.6H369.88ZM377.64 471.9H384.84V479.1H377.64ZM385.4 471.9H392.6V479.1H385.4ZM393.16 471.9H400.36V479.1H393.16ZM400.92 472.6H408.12V479.8H400.92ZM408.68 473.4H415.88V480.6H408.68ZM416.44 472.6H423.64V479.8H416.44ZM424.2 470.6H431.4V477.8H424.2ZM431.96 470.6H439.16V477.8H431.96ZM439.72 464.8H446.92V472H439.72ZM447.48 468H454.68V475.2H447.48ZM455.24 462.6H462.44V469.8H455.24ZM463 460.9H470.2V468.1H463ZM470.76 461.5H477.96V468.7H470.76ZM478.52 449.8H485.72V457H478.52ZM486.28 451.8H493.48V459H486.28ZM494.04 449.8H501.24V457H494.04ZM501.8 449.2H509V456.4H501.8ZM509.56 445.3H516.76V452.5H509.56ZM517.32 439.5H524.52V446.7H517.32ZM525.08 446.6H532.28V453.8H525.08ZM532.84 431H540.04V438.2H532.84ZM540.6 430.4H547.8V437.6H540.6ZM548.36 431H555.56V438.2H548.36ZM556.12 416.7H563.32V423.9H556.12ZM563.88 407.6H571.08V414.8H563.88ZM571.64 404.4H578.84V411.6H571.64ZM579.4 411.4H586.6V418.6H579.4ZM587.16 419.3H594.36V426.5H587.16ZM594.92 390H602.12V397.2H594.92ZM602.68 375.1H609.88V382.3H602.68ZM610.44 353H617.64V360.2H610.44ZM618.2 361.4H625.4V368.6H618.2ZM625.96 364.1H633.16V371.3H625.96ZM633.72 356.3H640.92V363.5H633.72ZM641.48 345.6H648.68V352.8H641.48ZM649.24 354.3H656.44V361.5H649.24ZM657 349.8H664.2V357H657ZM664.76 401.7H671.96V408.9H664.76ZM672.52 434.3H679.72V441.5H672.52ZM680.28 465.7H687.48V472.9H680.28ZM688.04 481H695.24V488.2H688.04ZM695.8 481.4H703V488.6H695.8ZM703.56 481.4H710.76V488.6H703.56ZM711.32 481.4H718.52V488.6H711.32ZM719.08 481.4H726.28V488.6H719.08ZM726.84 481.4H734.04V488.6H726.84ZM734.6 481.4H741.8V488.6H734.6ZM742.36 481.4H749.56V488.6H742.36ZM750.12 481.4H757.32V488.6H750.12ZM757.88 481.4H765.08V488.6H757.88ZM765.64 481.4H772.84V488.6H765.64ZM773.4 481.4H780.6V488.6H773.4Z" stroke-width="0.9"/>
</g>
<g stroke="#00ffff"><path d="M191.4 485H198.6M199.16 485H206.36M206.92 485H214.12M218.28 484V485M214.68 484H221.88M214.68 485H221.88M226.04 483.4V485M222.44 483.4H229.64M222.44 485H229.64M233.8 483.4V485M230.2 483.4H237.4M230.2 485H237.4M241.56 484V485M237.96 484H245.16M237.96 485H245.16M249.32 481.6V483.8M245.72 481.6H252.92M245.72 483.8H252.92M257.08 481.91V484.09M253.48 481.91H260.68M253.48 484.09H260.68M264.84 480.87V483.13M261.24 480.87H268.44M261.24 483.13H268.44M272.6 481.39V483.61M269 481.39H276.2M269 483.61H276.2M280.36 481.91V484.09M276.76 481.91H283.96M276.76 484.09H283.96M288.12 478.88V481.32M284.52 478.88H291.72M284.52 481.32H291.72M295.88 479.09V481.51M292.28 479.09H299.48M292.28 481.51H299.48M303.64 479.3V481.7M300.04 479.3H307.24M300.04 481.7H307.24M311.4 476.69V479.31M307.8 476.69H315M307.8 479.31H315M319.16 478.67V481.13M315.56 478.67H322.76M315.56 481.13H322.76M326.92 480.66V482.94M323.32 480.66H330.52M323.32 482.94H330.52M334.68 477.31V479.89M331.08 477.31H338.28M331.08 479.89H338.28M342.44 476.37V479.03M338.84 476.37H346.04M338.84 479.03H346.04M350.2 475.22V477.98M346.6 475.22H353.8M346.6 477.98H353.8M357.96 475.22V477.98M354.36 475.22H361.56M354.36 477.98H361.56M365.72 475.22V477.98M362.12 475.22H369.32M362.12 477.98H369.32M373.48 475.64V478.36M369.88 475.64H377.08M369.88 478.36H377.08M381.24 471.15V474.25M377.64 471.15H384.84M377.64 474.25H384.84M389 469.89V473.11M385.4 469.89H392.6M385.4 473.11H392.6M396.76 468.32V471.68M393.16 468.32H400.36M393.16 471.68H400.36M404.52 465.29V468.91M400.92 465.29H408.12M400.92 468.91H408.12M412.28 468.64V471.96M408.68 468.64H415.88M408.68 471.96H415.88M420.04 468.01V471.39M416.44 468.01H423.64M416.44 471.39H423.64M427.8 465.29V468.91M424.2 465.29H431.4M424.2 468.91H431.4M435.56 465.92V469.48M431.96 465.92H439.16M431.96 469.48H439.16M443.32 458.5V462.7M439.72 458.5H446.92M439.72 462.7H446.92M451.08 460.49V464.51M447.48 460.49H454.68M447.48 464.51H454.68M458.84 464.56V468.24M455.24 464.56H462.44M455.24 468.24H462.44M466.6 455.05V459.55M463 455.05H470.2M463 459.55H470.2M474.36 459.86V463.94M470.76 459.86H477.96M470.76 463.94H477.96M482.12 457.14V461.46M478.52 457.14H485.72M478.52 461.46H485.72M489.88 440.32V446.08M486.28 440.32H493.48M486.28 446.08H493.48M497.64 442.83V448.37M494.04 442.83H501.24M494.04 448.37H501.24M505.4 444.29V449.71M501.8 444.29H509M501.8 449.71H509M513.16 438.86V444.74M509.56 438.86H516.76M509.56 444.74H516.76M520.92 436.14V442.26M517.32 436.14H524.52M517.32 442.26H524.52M528.68 427.26V434.14M525.08 427.26H532.28M525.08 434.14H532.28M536.44 408.97V417.43M532.84 408.97H540.04M532.84 417.43H540.04M544.2 408.97V417.43M540.6 408.97H547.8M540.6 417.43H547.8M551.96 418.17V425.83M548.36 418.17H555.56M548.36 425.83H555.56M559.72 393.29V403.11M556.12 393.29H563.32M556.12 403.11H563.32M567.48 387.13V397.47M563.88 387.13H571.08M563.88 397.47H571.08M575.24 376.99V388.21M571.64 376.99H578.84M571.64 388.21H578.84M583 385.14V395.66M579.4 385.14H586.6M579.4 395.66H586.6M590.76 366.44V378.56M587.16 366.44H594.36M587.16 378.56H594.36M598.52 369.57V381.43M594.92 369.57H602.12M594.92 381.43H602.12M606.28 357.97V370.83M602.68 357.97H609.88M602.68 370.83H609.88M614.04 363.41V375.79M610.44 363.41H617.64M610.44 375.79H617.64M621.8 350.55V364.05M618.2 350.55H625.4M618.2 364.05H625.4M629.56 369.57V381.43M625.96 369.57H633.16M625.96 381.43H633.16M637.32 369.57V381.43M633.72 369.57H640.92M633.72 381.43H640.92M645.08 387.86V398.14M641.48 387.86H648.68M641.48 398.14H648.68M652.84 422.24V429.56M649.24 422.24H656.44M649.24 429.56H656.44M660.6 442.83V448.37M657 442.83H664.2M657 448.37H664.2M668.36 464.56V468.24M664.76 464.56H671.96M664.76 468.24H671.96M676.12 478.15V480.65M672.52 478.15H679.72M672.52 480.65H679.72M683.88 484.2V485M680.28 484.2H687.48M680.28 485H687.48M688.04 485H695.24M695.8 485H703M703.56 485H710.76M711.32 485H718.52M719.08 485H726.28M726.84 485H734.04M734.6 485H741.8M742.36 485H749.56M750.12 485H757.32M757.88 485H765.08M765.64 485H772.84M773.4 485H780.6"/><path d="M195 485L202.76 485L210.52 485L218.28 484.5L226.04 484.2L233.8 484.2L241.56 484.5L249.32 482.7L257.08 483L264.84 482L272.6 482.5L280.36 483L288.12 480.1L295.88 480.3L303.64 480.5L311.4 478L319.16 479.9L326.92 481.8L334.68 478.6L342.44 477.7L350.2 476.6L357.96 476.6L365.72 476.6L373.48 477L381.24 472.7L389 471.5L396.76 470L404.52 467.1L412.28 470.3L420.04 469.7L427.8 467.1L435.56 467.7L443.32 460.6L451.08 462.5L458.84 466.4L466.6 457.3L474.36 461.9L482.12 459.3L489.88 443.2L497.64 445.6L505.4 447L513.16 441.8L520.92 439.2L528.68 430.7L536.44 413.2L544.2 413.2L551.96 422L559.72 398.2L567.48 392.3L575.24 382.6L583 390.4L590.76 372.5L598.52 375.5L606.28 364.4L614.04 369.6L621.8 357.3L629.56 375.5L637.32 375.5L645.08 393L652.84 425.9L660.6 445.6L668.36 466.4L676.12 479.4L683.88 484.6L691.64 485L699.4 485L707.16 485L714.92 485L722.68 485L730.44 485L738.2 485L745.96 485L753.72 485L761.48 485L769.24 485L777 485"/>
<path d="M191.4 481.4H198.6V488.6H191.4ZM199.16 481.4H206.36V488.6H199.16ZM206.92 481.4H214.12V488.6H206.92ZM214.68 480.9H221.88V488.1H214.68ZM222.44 480.6H229.64V487.8H222.44ZM230.2 480.6H237.4V487.8H230.2ZM237.96 480.9H245.16V488.1H237.96ZM245.72 479.1H252.92V486.3H245.72ZM253.48 479.4H260.68V486.6H253.48ZM261.24 478.4H268.44V485.6H261.24ZM269 478.9H276.2V486.1H269ZM276.76 479.4H283.96V486.6H276.76ZM284.52 476.5H291.72V483.7H284.52ZM292.28 476.7H299.48V483.9H292.28ZM300.04 476.9H307.24V484.1H300.04ZM307.8 474.4H315V481.6H307.8ZM315.56 476.3H322.76V483.5H315.56ZM323.32 478.2H330.52V485.4H323.32ZM331.08 475H338.28V482.2H331.08ZM338.84 474.1H346.04V481.3H338.84ZM346.6 473H353.8V480.2H346.6ZM354.36 473H361.56V480.2H354.36ZM362.12 473H369.32V480.2H362.12ZM369.88 473.4H377.08V480.6H369.88ZM377.64 469.1H384.84V476.3H377.64ZM385.4 467.9H392.6V475.1H385.4ZM393.16 466.4H400.36V473.6H393.16ZM400.92 463.5H408.12V470.7H400.92ZM408.68 466.7H415.88V473.9H408.68ZM416.44 466.1H423.64V473.3H416.44ZM424.2 463.5H431.4V470.7H424.2ZM431.96 464.1H439.16V471.3H431.96ZM439.72 457H446.92V464.2H439.72ZM447.48 458.9H454.68V466.1H447.48ZM455.24 462.8H462.44V470H455.24ZM463 453.7H470.2V460.9H463ZM470.76 458.3H477.96V465.5H470.76ZM478.52 455.7H485.72V462.9H478.52ZM486.28 439.6H493.48V446.8H486.28ZM494.04 442H501.24V449.2H494.04ZM501.8 443.4H509V450.6H501.8ZM509.56 438.2H516.76V445.4H509.56ZM517.32 435.6H524.52V442.8H517.32ZM525.08 427.1H532.28V434.3H525.08ZM532.84 409.6H540.04V416.8H532.84ZM540.6 409.6H547.8V416.8H540.6ZM548.36 418.4H555.56V425.6H548.36ZM556.12 394.6H563.32V401.8H556.12ZM563.88 388.7H571.08V395.9H563.88ZM571.64 379H578.84V386.2H571.64ZM579.4 386.8H586.6V394H579.4ZM587.16 368.9H594.36V376.1H587.16ZM594.92 371.9H602.12V379.1H594.92ZM602.68 360.8H609.88V368H602.68ZM610.44 366H617.64V373.2H610.44ZM618.2 353.7H625.4V360.9H618.2ZM625.96 371.9H633.16V379.1H625.96ZM633.72 371.9H640.92V379.1H633.72ZM641.48 389.4H648.68V396.6H641.48ZM649.24 422.3H656.44V429.5H649.24ZM657 442H664.2V449.2H657ZM664.76 462.8H671.96V470H664.76ZM672.52 475.8H679.72V483H672.52ZM680.28 481H687.48V488.2H680.28ZM688.04 481.4H695.24V488.6H688.04ZM695.8 481.4H703V488.6H695.8ZM703.56 481.4H710.76V488.6H703.56ZM711.32 481.4H718.52V488.6H711.32ZM719.08 481.4H726.28V488.6H719.08ZM726.84 481.4H734.04V488.6H726.84ZM734.6 481.4H741.8V488.6H734.6ZM742.36 481.4H749.56V488.6H742.36ZM750.12 481.4H757.32V488.6H750.12ZM757.88 481.4H765.08V488.6H757.88ZM765.64 481.4H772.84V488.6H765.64ZM773.4 481.4H780.6V488.6H773.4Z" fill="#00ffff" stroke="none"/>
</g>
<g stroke="#808080"><path d="M191.4 485H198.6M199.16 485H206.36M210.52 484V485M206.92 484H214.12M206.92 485H214.12M218.28 482.7V484.7M214.68 482.7H221.88M214.68 484.7H221.88M226.04 482.7V484.7M222.44 482.7H229.64M222.44 484.7H229.64M233.8 482.7V484.7M230.2 482.7H237.4M230.2 484.7H237.4M241.56 484.2V485.2M237.96 484.2H245.16M237.96 485.2H245.16M249.32 474.7V483.7M245.72 474.7H252.92M245.72 483.7H252.92M257.08 480.4V484.4M253.48 480.4H260.68M253.48 484.4H260.68M264.84 477.5V483.5M261.24 477.5H268.44M261.24 483.5H268.44M272.6 475.7V482.7M269 475.7H276.2M269 482.7H276.2M280.36 477.5V483.5M276.76 477.5H283.96M276.76 483.5H283.96M288.12 472.1V480.7M284.52 472.1H291.72M284.52 480.7H291.72M295.88 470.1V478.7M292.28 470.1H299.48M292.28 478.7H299.48M303.64 465.3V473.9M300.04 465.3H307.24M300.04 473.9H307.24M311.4 479.1V484.1M307.8 479.1H315M307.8 484.1H315M319.16 471.1V478.9M315.56 471.1H322.76M315.56 478.9H322.76M326.92 472.4V480.4M323.32 472.4H330.52M323.32 480.4H330.52M334.68 470.2V478.6M331.08 470.2H338.28M331.08 478.6H338.28M342.44 468V475.2M338.84 468H346.04M338.84 475.2H346.04M350.2 479.1V484.1M346.6 479.1H353.8M346.6 484.1H353.8M357.96 476.6V482.6M354.36 476.6H361.56M354.36 482.6H361.56M365.72 471.7V479.7M362.12 471.7H369.32M362.12 479.7H369.32M373.48 472.1V480.1M369.88 472.1H377.08M369.88 480.1H377.08M381.24 467.5V477.5M377.64 467.5H384.84M377.64 477.5H384.84M389 455.5V466.5M385.4 455.5H392.6M385.4 466.5H392.6M396.76 464.3V474.3M393.16 464.3H400.36M393.16 474.3H400.36M404.52 456.3V467.5M400.92 456.3H408.12M400.92 467.5H408.12M412.28 472.2V480.2M408.68 472.2H415.88M408.68 480.2H415.88M420.04 468.8V477.8M416.44 468.8H423.64M416.44 477.8H423.64M427.8 454.1V470.1M424.2 454.1H431.4M424.2 470.1H431.4M435.56 462V474M431.96 462H439.16M431.96 474H439.16M443.32 435.5V457.1M439.72 435.5H446.92M439.72 457.1H446.92M451.08 445V458M447.48 445H454.68M447.48 458H454.68M458.84 434.3V452.3M455.24 434.3H462.44M455.24 452.3H462.44M466.6 413.6V435.6M463 413.6H470.2M463 435.6H470.2M474.36 453.3V467.3M470.76 453.3H477.96M470.76 467.3H477.96M482.12 442.1V455.1M478.52 442.1H485.72M478.52 455.1H485.72M489.88 419.7V439.7M486.28 419.7H493.48M486.28 439.7H493.48M497.64 412.5V439.5M494.04 412.5H501.24M494.04 439.5H501.24M505.4 431.5V449.5M501.8 431.5H509M501.8 449.5H509M513.16 418.8V438.8M509.56 418.8H516.76M509.56 438.8H516.76M520.92 414.1V433.1M517.32 414.1H524.52M517.32 433.1H524.52M528.68 414.1V433.1M525.08 414.1H532.28M525.08 433.1H532.28M536.44 405.5V425.5M532.84 405.5H540.04M532.84 425.5H540.04M544.2 394.3V410.3M540.6 394.3H547.8M540.6 410.3H547.8M551.96 393V415M548.36 393H555.56M548.36 415H555.56M559.72 351.5V375.5M556.12 351.5H563.32M556.12 375.5H563.32M567.48 380.3V397.9M563.88 380.3H571.08M563.88 397.9H571.08M575.24 385.6V401.6M571.64 385.6H578.84M571.64 401.6H578.84M583 333.6V362.8M579.4 333.6H586.6M579.4 362.8H586.6M590.76 356.7V383.3M587.16 356.7H594.36M587.16 383.3H594.36M598.52 346.5V367.5M594.92 346.5H602.12M594.92 367.5H602.12M606.28 391.1V409.1M602.68 391.1H609.88M602.68 409.1H609.88M614.04 373V391M610.44 373H617.64M610.44 391H617.64M621.8 379.4V397.4M618.2 379.4H625.4M618.2 397.4H625.4M629.56 405.5V419.5M625.96 405.5H633.16M625.96 419.5H633.16M637.32 426.9V444.9M633.72 426.9H640.92M633.72 444.9H640.92M645.08 448.3V457.3M641.48 448.3H648.68M641.48 457.3H648.68M652.84 464.2V471.2M649.24 464.2H656.44M649.24 471.2H656.44M660.6 481.2V484.2M657 481.2H664.2M657 484.2H664.2M668.36 481.5V484.5M664.76 481.5H671.96M664.76 484.5H671.96M672.52 485H679.72M680.28 485H687.48M688.04 485H695.24M695.8 485H703M703.56 485H710.76M711.32 485H718.52M719.08 485H726.28M726.84 485H734.04M734.6 485H741.8M742.36 485H749.56M750.12 485H757.32M757.88 485H765.08M765.64 485H772.84M773.4 485H780.6"/><path d="M195 485L202.76 485L210.52 484.5L218.28 483.7L226.04 483.7L233.8 483.7L241.56 484.7L249.32 479.2L257.08 482.4L264.84 480.5L272.6 479.2L280.36 480.5L288.12 476.4L295.88 474.4L303.64 469.6L311.4 481.6L319.16 475L326.92 476.4L334.68 474.4L342.44 471.6L350.2 481.6L357.96 479.6L365.72 475.7L373.48 476.1L381.24 472.5L389 461L396.76 469.3L404.52 461.9L412.28 476.2L420.04 473.3L427.8 462.1L435.56 468L443.32 446.3L451.08 451.5L458.84 443.3L466.6 424.6L474.36 460.3L482.12 448.6L489.88 429.7L497.64 426L505.4 440.5L513.16 428.8L520.92 423.6L528.68 423.6L536.44 415.5L544.2 402.3L551.96 404L559.72 363.5L567.48 389.1L575.24 393.6L583 348.2L590.76 370L598.52 357L606.28 400.1L614.04 382L621.8 388.4L629.56 412.5L637.32 435.9L645.08 452.8L652.84 467.7L660.6 482.7L668.36 483L676.12 485L683.88 485L691.64 485L699.4 485L707.16 485L714.92 485L722.68 485L730.44 485L738.2 485L745.96 485L753.72 485L761.48 485L769.24 485L777 485"/>
<path d="M195 480.6L198.8 487.1H191.2ZM202.76 480.6L206.56 487.1H198.96ZM210.52 480.1L214.32 486.6H206.72ZM218.28 479.3L222.08 485.8H214.48ZM226.04 479.3L229.84 485.8H222.24ZM233.8 479.3L237.6 485.8H230ZM241.56 480.3L245.36 486.8H237.76ZM249.32 474.8L253.12 481.3H245.52ZM257.08 478L260.88 484.5H253.28ZM264.84 476.1L268.64 482.6H261.04ZM272.6 474.8L276.4 481.3H268.8ZM280.36 476.1L284.16 482.6H276.56ZM288.12 472L291.92 478.5H284.32ZM295.88 470L299.68 476.5H292.08ZM303.64 465.2L307.44 471.7H299.84ZM311.4 477.2L315.2 483.7H307.6ZM319.16 470.6L322.96 477.1H315.36ZM326.92 472L330.72 478.5H323.12ZM334.68 470L338.48 476.5H330.88ZM342.44 467.2L346.24 473.7H338.64ZM350.2 477.2L354 483.7H346.4ZM357.96 475.2L361.76 481.7H354.16ZM365.72 471.3L369.52 477.8H361.92ZM373.48 471.7L377.28 478.2H369.68ZM381.24 468.1L385.04 474.6H377.44ZM389 456.6L392.8 463.1H385.2ZM396.76 464.9L400.56 471.4H392.96ZM404.52 457.5L408.32 464H400.72ZM412.28 471.8L416.08 478.3H408.48ZM420.04 468.9L423.84 475.4H416.24ZM427.8 457.7L431.6 464.2H424ZM435.56 463.6L439.36 470.1H431.76ZM443.32 441.9L447.12 448.4H439.52ZM451.08 447.1L454.88 453.6H447.28ZM458.84 438.9L462.64 445.4H455.04ZM466.6 420.2L470.4 426.7H462.8ZM474.36 455.9L478.16 462.4H470.56ZM482.12 444.2L485.92 450.7H478.32ZM489.88 425.3L493.68 431.8H486.08ZM497.64 421.6L501.44 428.1H493.84ZM505.4 436.1L509.2 442.6H501.6ZM513.16 424.4L516.96 430.9H509.36ZM520.92 419.2L524.72 425.7H517.12ZM528.68 419.2L532.48 425.7H524.88ZM536.44 411.1L540.24 417.6H532.64ZM544.2 397.9L548 404.4H540.4ZM551.96 399.6L555.76 406.1H548.16ZM559.72 359.1L563.52 365.6H555.92ZM567.48 384.7L571.28 391.2H563.68ZM575.24 389.2L579.04 395.7H571.44ZM583 343.8L586.8 350.3H579.2ZM590.76 365.6L594.56 372.1H586.96ZM598.52 352.6L602.32 359.1H594.72ZM606.28 395.7L610.08 402.2H602.48ZM614.04 377.6L617.84 384.1H610.24ZM621.8 384L625.6 390.5H618ZM629.56 408.1L633.36 414.6H625.76ZM637.32 431.5L641.12 438H633.52ZM645.08 448.4L648.88 454.9H641.28ZM652.84 463.3L656.64 469.8H649.04ZM660.6 478.3L664.4 484.8H656.8ZM668.36 478.6L672.16 485.1H664.56ZM676.12 480.6L679.92 487.1H672.32ZM683.88 480.6L687.68 487.1H680.08ZM691.64 480.6L695.44 487.1H687.84ZM699.4 480.6L703.2 487.1H695.6ZM707.16 480.6L710.96 487.1H703.36ZM714.92 480.6L718.72 487.1H711.12ZM722.68 480.6L726.48 487.1H718.88ZM730.44 480.6L734.24 487.1H726.64ZM738.2 480.6L742 487.1H734.4ZM745.96 480.6L749.76 487.1H742.16ZM753.72 480.6L757.52 487.1H749.92ZM761.48 480.6L765.28 487.1H757.68ZM769.24 480.6L773.04 487.1H765.44ZM777 480.6L780.8 487.1H773.2Z" fill="#808080" stroke="none"/>
</g>
</g>
<path d="M664.9 106.6V122.9" stroke="#ff0000" stroke-width="1.4" fill="none"/><path d="M664.9 129.1L662.45 121.9H667.35Z" fill="#ff0000"/>
<path d="M682.9 106.6V122.9" stroke="#ff0000" stroke-width="1.4" fill="none"/><path d="M682.9 129.1L680.45 121.9H685.35Z" fill="#ff0000"/>
<path d="M696.2 106.6V122.9" stroke="#ff0000" stroke-width="1.4" fill="none"/><path d="M696.2 129.1L693.75 121.9H698.65Z" fill="#ff0000"/>
<path d="M574.6 262.3V279.1" stroke="#0000ff" stroke-width="1.4" fill="none"/><path d="M574.6 285.3L572.15 278.1H577.05Z" fill="#0000ff"/>
<path d="M628.9 262.3V279.1" stroke="#0000ff" stroke-width="1.4" fill="none"/><path d="M628.9 285.3L626.45 278.1H631.35Z" fill="#0000ff"/>
<path d="M661.6 262.3V279.1" stroke="#0000ff" stroke-width="1.4" fill="none"/><path d="M661.6 285.3L659.15 278.1H664.05Z" fill="#0000ff"/>
<path d="M524.4 306.7V323.6" stroke="#00ffff" stroke-width="1.4" fill="none"/><path d="M524.4 329.8L521.95 322.6H526.85Z" fill="#00ffff"/>
<path d="M582.8 306.7V323.6" stroke="#00ffff" stroke-width="1.4" fill="none"/><path d="M582.8 329.8L580.35 322.6H585.25Z" fill="#00ffff"/>
<path d="M622.1 306.7V323.6" stroke="#00ffff" stroke-width="1.4" fill="none"/><path d="M622.1 329.8L619.65 322.6H624.55Z" fill="#00ffff"/>
<g fill="none" stroke-width="0.65">
<path d="M344 164H412.2" stroke="#ff0000"/>
<path d="M374.4 164H381.6M378 160.4V167.6" stroke="#ff0000" stroke-width="0.9"/>
<path d="M344 189.65H412.2" stroke="#00ff00"/>
<path d="M374.4 186.05L381.6 193.25M374.4 193.25L381.6 186.05" stroke="#00ff00" stroke-width="0.9"/>
<path d="M344 215.3H412.2" stroke="#0000ff"/>
<path d="M374.4 215.3H381.6M378 211.7V218.9M374.4 211.7L381.6 218.9M374.4 218.9L381.6 211.7" stroke="#0000ff" stroke-width="0.9"/>
<path d="M344 240.95H412.2" stroke="#ff00ff"/>
<path d="M374.4 237.35H381.6V244.55H374.4Z" stroke="#ff00ff" stroke-width="0.9"/>
<path d="M344 266.6H412.2" stroke="#00ffff"/>
<path d="M374.4 263H381.6V270.2H374.4Z" fill="#00ffff" stroke="none"/>
<path d="M344 292.25H412.2" stroke="#808080"/>
<path d="M378 287.85L381.8 294.35H374.2Z" fill="#808080" stroke="none"/>
</g>
<rect x="195.0" y="84.4" width="582.0" height="400.6" fill="none" stroke="#000" stroke-width="1.5"/>
<g font-family="Liberation Sans, sans-serif" font-size="25" fill="#000" stroke="#000" stroke-width="0.35" opacity="0.999">
<text transform="translate(328.1 172.7) scale(1.03 1)" text-anchor="end">L=16</text>
<text transform="translate(328.1 198.35) scale(1.03 1)" text-anchor="end">L=32</text>
<text transform="translate(328.1 224) scale(1.03 1)" text-anchor="end">L=64</text>
<text transform="translate(328.1 249.65) scale(1.03 1)" text-anchor="end">L=128</text>
<text transform="translate(328.1 275.3) scale(1.03 1)" text-anchor="end">L=256</text>
<text transform="translate(328.1 300.95) scale(1.03 1)" text-anchor="end">L=512</text>
<text transform="translate(179.1 494.2) scale(1.03 1)" text-anchor="end">0</text>
<text transform="translate(179.1 449.64) scale(1.03 1)" text-anchor="end">0.02</text>
<text transform="translate(179.1 405.09) scale(1.03 1)" text-anchor="end">0.04</text>
<text transform="translate(179.1 360.53) scale(1.03 1)" text-anchor="end">0.06</text>
<text transform="translate(179.1 315.98) scale(1.03 1)" text-anchor="end">0.08</text>
<text transform="translate(179.1 271.42) scale(1.03 1)" text-anchor="end">0.1</text>
<text transform="translate(179.1 226.87) scale(1.03 1)" text-anchor="end">0.12</text>
<text transform="translate(179.1 182.31) scale(1.03 1)" text-anchor="end">0.14</text>
<text transform="translate(179.1 137.76) scale(1.03 1)" text-anchor="end">0.16</text>
<text transform="translate(179.1 93.2) scale(1.03 1)" text-anchor="end">0.18</text>
<text transform="translate(198 520.5) scale(1.03 1)" text-anchor="middle">0</text>
<text transform="translate(275.6 520.5) scale(1.03 1)" text-anchor="middle">0.2</text>
<text transform="translate(353.2 520.5) scale(1.03 1)" text-anchor="middle">0.4</text>
<text transform="translate(430.8 520.5) scale(1.03 1)" text-anchor="middle">0.6</text>
<text transform="translate(508.4 520.5) scale(1.03 1)" text-anchor="middle">0.8</text>
<text transform="translate(586 520.5) scale(1.03 1)" text-anchor="middle">1</text>
<text transform="translate(663.6 520.5) scale(1.03 1)" text-anchor="middle">1.2</text>
<text transform="translate(741.2 520.5) scale(1.03 1)" text-anchor="middle">1.4</text>
<text x="473.7" y="555.0" font-size="24.5">n<tspan dx="0.6" dy="8.2" font-size="20">s</tspan></text>
<text transform="translate(80.2 325.5) rotate(-90) scale(1.02 1)">hist(n<tspan dy="8.3" font-size="20">s</tspan><tspan dy="-8.3" font-size="25">)</tspan></text>
</g>
</svg>
</body></html>
